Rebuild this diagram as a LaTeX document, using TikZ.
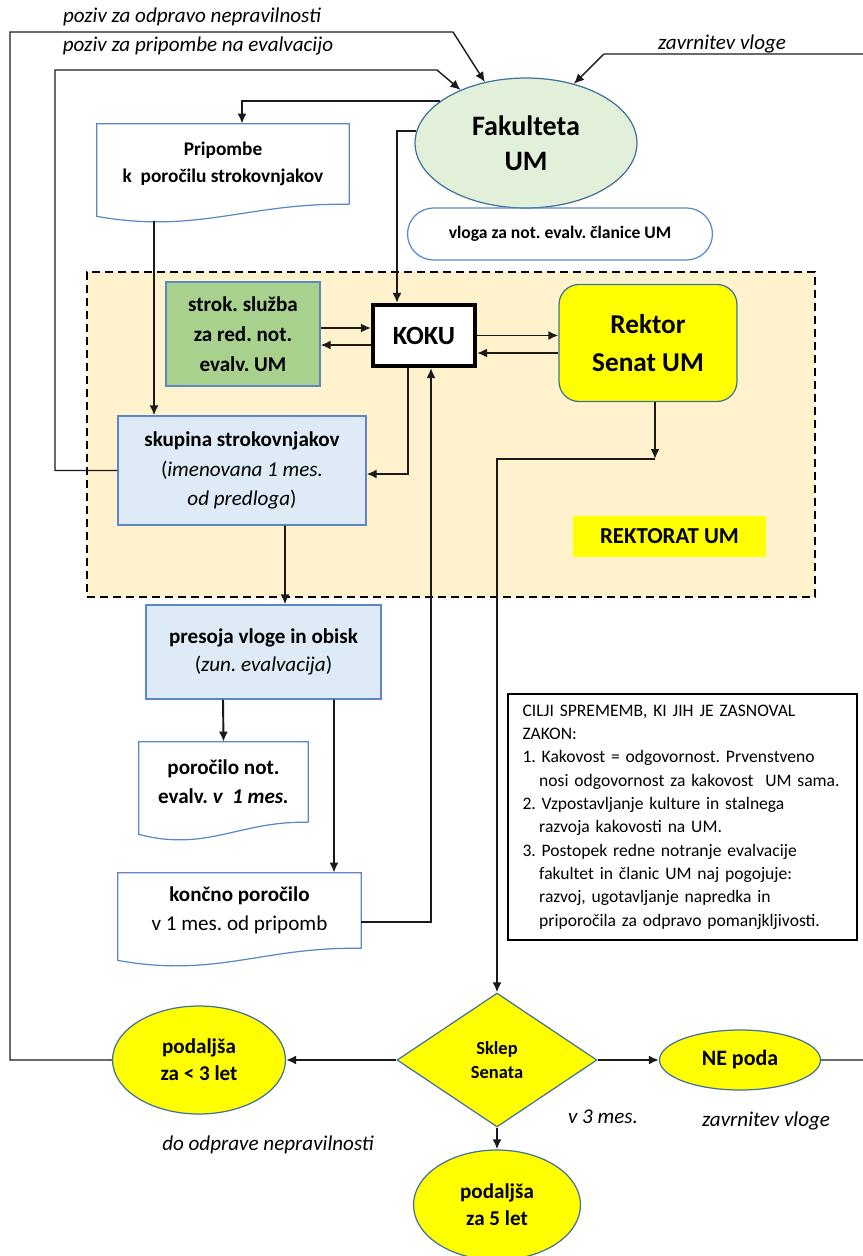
\documentclass[tikz,border=0pt]{standalone}
\usepackage{fontspec}
\setmainfont{Carlito}
\usetikzlibrary{arrows.meta,shapes.geometric,calc}
\definecolor{edgeblue}{HTML}{41719C}
\definecolor{docblue}{HTML}{5B87C5}
\definecolor{boxblue}{HTML}{DEEBF7}
\definecolor{boxgreen}{HTML}{A9D18E}
\definecolor{ovalgreen}{HTML}{E2F0D9}
\definecolor{zoneorange}{HTML}{FFF2CC}
\definecolor{signyellow}{HTML}{FFFF00}
\definecolor{wire}{HTML}{1A1A1A}
\frenchspacing
\tikzset{
  lbl/.style={font=\fontsize{12}{14}\selectfont\itshape, inner sep=0pt},
  bluebox/.style={draw=docblue, fill=boxblue, line width=0.7pt, align=center, inner sep=0pt},
  docbox/.style={align=center, inner sep=0pt},
  docline/.style={draw=docblue, line width=0.7pt},
  ylw/.style={draw=edgeblue, fill=signyellow, line width=0.7pt, align=center, inner sep=0pt},
  arr/.style={-{Latex[length=2mm,width=1.8mm]}, line width=1.1pt, draw=wire},
  backarr/.style={-{Latex[length=2mm,width=1.8mm]}, line width=0.8pt, draw=wire}
}
\newcommand\docwave[1]{%
  \draw[docline] (#1.south east) -- (#1.north east) -- (#1.north west) -- ($(#1.south west)+(0,12)$)
    .. controls ($(#1.south east)!0.6!(#1.south west)+(0,30)$) and ($(#1.south east)!0.4!(#1.south west)+(0,-2)$) .. (#1.south east);}

\begin{document}
\frenchspacing
\begin{tikzpicture}[x=0.02cm, y=-0.02cm]
    \useasboundingbox (0,0) rectangle (862,1256);
    \node[draw=black, dashed, dash pattern=on 1.6mm off 1mm, fill=zoneorange, line width=0.7pt,
      minimum width=14.56cm, minimum height=6.5cm] (zone) at (451,434.5) {};
    \node[ellipse, draw=edgeblue, fill=ovalgreen, line width=0.7pt, minimum width=4.44cm, minimum height=2.6cm,
      inner sep=0pt, align=center, font=\fontsize{16}{20}\selectfont\bfseries] (fak) at (526,143) {Fakulteta\\UM};
    \node[draw=docblue, rounded corners=0.52cm, line width=0.7pt, minimum width=6.1cm, minimum height=1.04cm,
      font=\fontsize{10}{12}\selectfont\bfseries] (vloga) at (560,234) {vloga za not. evalv. članice UM};
    \node[docbox, minimum width=5.04cm, minimum height=1.6cm, font=\fontsize{11}{15}\selectfont\bfseries] (pripombe) at (223,164) {Pripombe\\k\ \ poročilu strokovnjakov};
    \node[draw=docblue, fill=boxgreen, line width=0.7pt, align=center, minimum width=3.08cm, minimum height=2.08cm,
      font=\fontsize{12}{17}\selectfont\bfseries] (strok) at (243,334) {strok. služba\\za red. not.\\evalv. UM};
    \node[draw=black, line width=2.3pt, fill=white, minimum width=2.04cm, minimum height=1.22cm,
      font=\fontsize{15}{18}\selectfont\bfseries] (koku) at (424,335.5) {KOKU};
    \node[ylw, rounded corners=0.4cm, minimum width=3.56cm, minimum height=2.34cm,
      font=\fontsize{15.5}{22}\selectfont\bfseries] (rektor) at (648,343) {Rektor\\Senat UM};
    \node[bluebox, minimum width=4.96cm, minimum height=2.18cm, font=\fontsize{12}{17}\selectfont] (skupina) at (242,470.5)
      {\textbf{skupina strokovnjakov}\\(\textit{imenovana 1 mes.}\\\textit{od predloga})};
    \node[fill=signyellow, minimum width=3.86cm, minimum height=0.82cm, font=\fontsize{13}{15}\selectfont\bfseries] (rektorat) at (669.5,536.5) {REKTORAT UM};
    \node[bluebox, minimum width=4.7cm, minimum height=1.88cm, font=\fontsize{12}{16}\selectfont] (presoja) at (263.5,652)
      {\textbf{presoja vloge in obisk}\\(\textit{zun. evalvacija})};
    \node[docbox, minimum width=3.38cm, minimum height=1.6cm, font=\fontsize{12}{16.5}\selectfont\bfseries] (porocilo) at (223.5,782) {poročilo not.\\evalv. \textit{v\ \ 1 mes.}};
    \node[docbox, minimum width=4.86cm, minimum height=1.5cm, font=\fontsize{12}{16.5}\selectfont] (koncno) at (239.5,910.5) {\textbf{končno poročilo}\\v 1 mes. od pripomb};
    \docwave{pripombe}
    \docwave{porocilo}
    \docwave{koncno}
    \node[draw=black, line width=0.8pt, minimum width=6.98cm, minimum height=4.92cm, text width=6.4cm, inner xsep=0.29cm,
      align=left, font=\fontsize{10}{13.3}\selectfont] (cilji) at (682.5,817) {CILJI SPREMEMB, KI JIH JE ZASNOVAL\\
      ZAKON:\\
      1. Kakovost = odgovornost. Prvenstveno\\
      \hspace*{0.95em}nosi odgovornost za kakovost\ \ UM sama.\\
      2. Vzpostavljanje kulture in stalnega\\
      \hspace*{0.95em}razvoja kakovosti na UM.\\
      3. Postopek redne notranje evalvacije\\
      \hspace*{0.95em}fakultet in članic UM naj pogojuje:\\
      \hspace*{0.95em}razvoj, ugotavljanje napredka in\\
      \hspace*{0.95em}priporočila za odpravo pomanjkljivosti.};
    \node[diamond, ylw, minimum width=4cm, minimum height=2.68cm, font=\fontsize{10.5}{14}\selectfont\bfseries] (sklep) at (497,1060) {Sklep\\Senata};
    \node[ellipse, ylw, minimum width=3.46cm, minimum height=2.16cm, font=\fontsize{12}{15.5}\selectfont\bfseries] (podlt3) at (199,1060) {podaljša\\za < 3 let};
    \node[ellipse, ylw, minimum width=3.22cm, minimum height=1.2cm, font=\fontsize{12.5}{15}\selectfont\bfseries] (nepoda) at (740,1060) {NE poda};
    \node[ellipse, ylw, minimum width=3.34cm, minimum height=2.2cm, font=\fontsize{12}{15.5}\selectfont\bfseries] (pod5) at (497,1205) {podaljša\\za 5 let};
    \node[lbl] (lblodpravo) at (192,17) {poziv za odpravo nepravilnosti};
    \node[lbl] (lblpripombe) at (198,46) {poziv za pripombe na evalvacijo};
    \node[lbl] (lblzavrnitev) at (722,44) {zavrnitev vloge};
    \node[lbl] (lbldo) at (268,1145) {do odprave nepravilnosti};
    \node[lbl] (lblv3) at (603,1117) {v 3 mes.};
    \node[lbl] (lblnevloga) at (766,1121) {zavrnitev vloge};
    \coordinate (jn) at (655,459);
    % povratne poti do fakultete
    \draw[backarr] (podlt3.west) -| (10,32) -- (453,32) -- (fak.124);
    \draw[backarr] (skupina.west) -| (55,70) -- (437,70) -- (fak.141);
    \draw[backarr] (nepoda.east) -| (870,54) -- (604,54) -- (fak.51);
    \draw[arr] (fak.154) -| ([xshift=0.38cm]pripombe.north);
    \draw[arr] (fak.174) -| ([xshift=-0.54cm]koku.north);
    \draw[arr] ([xshift=-1.38cm,yshift=-0.33cm]pripombe.south) -- ([xshift=-1.76cm]skupina.north);
    \draw[arr] ([yshift=0.12cm]strok.east) -- ([yshift=0.12cm]strok.east -| koku.west);
    \draw[arr] ([yshift=-0.22cm]strok.east -| koku.west) -- ([yshift=-0.22cm]strok.east);
    \draw[arr] (koku.east) -- (koku.east -| rektor.west);
    \draw[arr] ([yshift=-0.35cm]koku.east -| rektor.west) -- ([yshift=-0.35cm]koku.east);
    \draw[arr] ([xshift=-0.32cm]koku.south) |- ([yshift=-0.07cm]skupina.east);
    \draw[arr] ([yshift=-0.23cm]koncno.east) -| ([xshift=0.14cm]koku.south);
    \draw[arr] ([xshift=0.14cm]rektor.south) -- (jn);
    \draw[arr] (jn) -| (sklep.north);
    \draw[arr] ([xshift=0.86cm]skupina.south) -- ([xshift=0.43cm]presoja.north);
    \draw[arr] ([xshift=-0.81cm]presoja.south) -- (porocilo.north);
    \draw[arr] ([xshift=1.41cm]presoja.south) -- ([xshift=1.89cm]koncno.north);
    \draw[arr] (sklep.west) -- (podlt3.east);
    \draw[arr] (sklep.east) -- (nepoda.west);
    \draw[arr] (sklep.south) -- (pod5.north);
\end{tikzpicture}
\end{document}
